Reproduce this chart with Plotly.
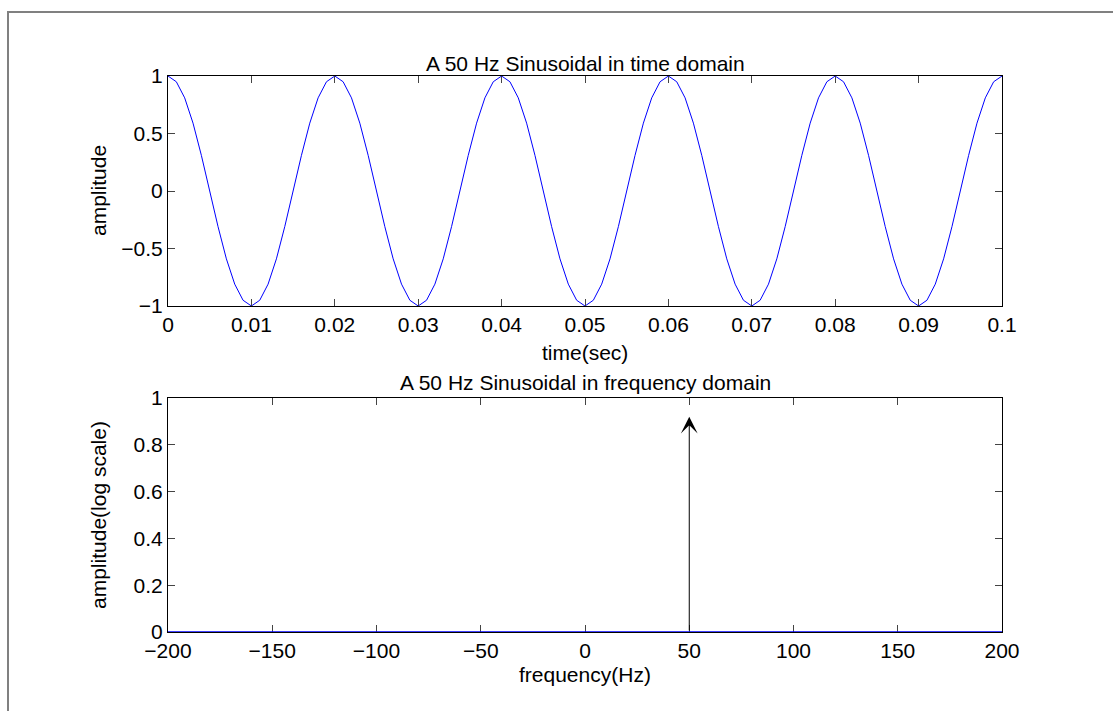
import plotly.graph_objects as go

# ---- data ----
time_sec = [0.000, 0.001, 0.002, 0.003, 0.004, 0.005, 0.006, 0.007, 0.008, 0.009,
            0.010, 0.011, 0.012, 0.013, 0.014, 0.015, 0.016, 0.017, 0.018, 0.019,
            0.020, 0.021, 0.022, 0.023, 0.024, 0.025, 0.026, 0.027, 0.028, 0.029,
            0.030, 0.031, 0.032, 0.033, 0.034, 0.035, 0.036, 0.037, 0.038, 0.039,
            0.040, 0.041, 0.042, 0.043, 0.044, 0.045, 0.046, 0.047, 0.048, 0.049,
            0.050, 0.051, 0.052, 0.053, 0.054, 0.055, 0.056, 0.057, 0.058, 0.059,
            0.060, 0.061, 0.062, 0.063, 0.064, 0.065, 0.066, 0.067, 0.068, 0.069,
            0.070, 0.071, 0.072, 0.073, 0.074, 0.075, 0.076, 0.077, 0.078, 0.079,
            0.080, 0.081, 0.082, 0.083, 0.084, 0.085, 0.086, 0.087, 0.088, 0.089,
            0.090, 0.091, 0.092, 0.093, 0.094, 0.095, 0.096, 0.097, 0.098, 0.099,
            0.100]
amplitude = [1, 0.95, 0.81, 0.59, 0.31, 0, -0.31, -0.59, -0.81, -0.95,
             -1, -0.95, -0.81, -0.59, -0.31, 0, 0.31, 0.59, 0.81, 0.95,
             1, 0.95, 0.81, 0.59, 0.31, 0, -0.31, -0.59, -0.81, -0.95,
             -1, -0.95, -0.81, -0.59, -0.31, 0, 0.31, 0.59, 0.81, 0.95,
             1, 0.95, 0.81, 0.59, 0.31, 0, -0.31, -0.59, -0.81, -0.95,
             -1, -0.95, -0.81, -0.59, -0.31, 0, 0.31, 0.59, 0.81, 0.95,
             1, 0.95, 0.81, 0.59, 0.31, 0, -0.31, -0.59, -0.81, -0.95,
             -1, -0.95, -0.81, -0.59, -0.31, 0, 0.31, 0.59, 0.81, 0.95,
             1, 0.95, 0.81, 0.59, 0.31, 0, -0.31, -0.59, -0.81, -0.95,
             -1, -0.95, -0.81, -0.59, -0.31, 0, 0.31, 0.59, 0.81, 0.95,
             1]

freq_hz = [-200, 200]
spectrum = [0, 0]
impulse_freq = 50
impulse_amp = 0.92

time_ticks = [0, 0.01, 0.02, 0.03, 0.04, 0.05, 0.06, 0.07, 0.08, 0.09, 0.1]
time_ticklabels = ["0", "0.01", "0.02", "0.03", "0.04", "0.05", "0.06", "0.07", "0.08", "0.09", "0.1"]
amp_ticks = [-1, -0.5, 0, 0.5, 1]
amp_ticklabels = ["\u22121", "\u22120.5", "0", "0.5", "1"]
freq_ticks = [-200, -150, -100, -50, 0, 50, 100, 150, 200]
freq_ticklabels = ["\u2212200", "\u2212150", "\u2212100", "\u221250", "0", "50", "100", "150", "200"]
spec_ticks = [0, 0.2, 0.4, 0.6, 0.8, 1]
spec_ticklabels = ["0", "0.2", "0.4", "0.6", "0.8", "1"]

# ---- layout geometry ----
W, H = 1113, 711
ML, MR, MT, MB = 168, 111, 76, 79
PW, PH = W - ML - MR, H - MT - MB


def px_x(p):
    return (p - ML) / PW


def px_y(p):
    return (H - MB - p) / PH


FONT = "Liberation Sans, Arial, Helvetica, sans-serif"
FS = 21

fig = go.Figure()
fig.add_trace(go.Scatter(x=time_sec, y=amplitude, mode="lines",
                         line=dict(color="#0000ff", width=1), xaxis="x", yaxis="y",
                         showlegend=False, hoverinfo="skip"))
fig.add_trace(go.Scatter(x=freq_hz, y=spectrum, mode="lines",
                         line=dict(color="#0000ff", width=1.5), xaxis="x2", yaxis="y2",
                         showlegend=False, hoverinfo="skip", cliponaxis=False))

axis_common = dict(showline=True, linecolor="black", linewidth=1, mirror="ticks",
                   ticks="inside", ticklen=7, tickwidth=1, tickcolor="#444",
                   showgrid=False, zeroline=False,
                   tickfont=dict(family=FONT, size=FS, color="black"))

fig.update_layout(
    width=W, height=H,
    margin=dict(l=ML, r=MR, t=MT, b=MB),
    paper_bgcolor="white", plot_bgcolor="white",
    font=dict(family=FONT, size=FS, color="black"),
    xaxis=dict(domain=[0, 1], range=[0, 0.1], anchor="y",
               tickvals=time_ticks, ticktext=time_ticklabels, **axis_common),
    yaxis=dict(domain=[px_y(306), 1], range=[-1, 1], anchor="x",
               tickvals=amp_ticks, ticktext=amp_ticklabels, **axis_common),
    xaxis2=dict(domain=[0, 1], range=[-200, 200], anchor="y2", layer="below traces",
                tickvals=freq_ticks, ticktext=freq_ticklabels, **axis_common),
    yaxis2=dict(domain=[0, px_y(398)], range=[0, 1], anchor="x2",
                tickvals=spec_ticks, ticktext=spec_ticklabels, **axis_common),
)

ann = [
    dict(text="A 50 Hz Sinusoidal in time domain", x=0.5, y=px_y(64)),
    dict(text="time(sec)", x=0.5, y=px_y(352)),
    dict(text="A 50 Hz Sinusoidal in frequency domain", x=0.5, y=px_y(382)),
    dict(text="frequency(Hz)", x=0.5, y=px_y(674)),
    dict(text="amplitude", x=px_x(98), y=px_y(191), textangle=-90),
    dict(text="amplitude(log scale)", x=px_x(98), y=px_y(515), textangle=-90),
]
for a in ann:
    fig.add_annotation(xref="paper", yref="paper", xanchor="center", yanchor="middle",
                       showarrow=False, font=dict(family=FONT, size=FS, color="black"), **a)

# impulse arrow at 50 Hz
fig.add_annotation(x=impulse_freq, y=impulse_amp, xref="x2", yref="y2",
                   ax=impulse_freq, ay=0, axref="x2", ayref="y2",
                   text="", showarrow=True, arrowhead=3, arrowsize=2.8,
                   arrowwidth=1, arrowcolor="black")

# figure border
fig.add_shape(type="rect", xref="paper", yref="paper",
              x0=px_x(8), x1=px_x(1125), y0=px_y(725), y1=px_y(12),
              line=dict(color="#808080", width=2), fillcolor="rgba(0,0,0,0)", layer="below")

fig.write_html("out.html")
